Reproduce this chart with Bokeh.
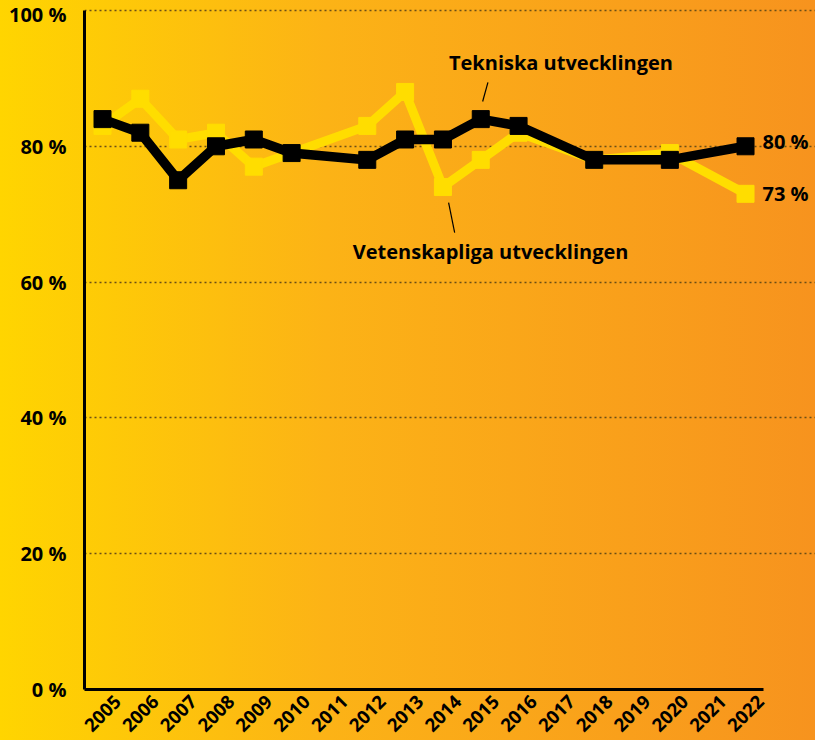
import math
from bokeh.plotting import figure
from bokeh.models import Range1d, FixedTicker, GlobalInlineStyleSheet, LinearAxis
from bokeh.core.properties import value
from bokeh.embed import file_html
from bokeh.resources import INLINE

# ---- data ----
years_tek = [2005, 2006, 2007, 2008, 2009, 2010, 2012, 2013, 2014, 2015, 2016, 2018, 2020, 2022]
tekniska = [84, 82, 75, 80, 81, 79, 78, 81, 81, 84, 83, 78, 78, 80]
years_vet = [2005, 2006, 2007, 2008, 2009, 2010, 2012, 2013, 2014, 2015, 2016, 2018, 2020, 2022]
vetenskapliga = [83, 87, 81, 82, 77, 79, 83, 88, 74, 78, 82, 78, 79, 73]
year_ticks = list(range(2005, 2023))
y_ticks = [0, 20, 40, 60, 80, 100]
y_tick_labels = {0: "0 %", 20: "20 %", 40: "40 %", 60: "60 %", 80: "80 %", 100: "100 %"}
series_names = ["Tekniska utvecklingen", "Vetenskapliga utvecklingen"]
end_labels = ["80 %", "73 %"]

BLACK = "#000000"
YELLOW = "#FFDD00"
GRID = "#6b4e16"
TICK_FONT = "Open Sans"
ANN_FONT = "Open Sans"

X0, X1 = 2004.524, 2023.85
LABEL_SHIFT = 0.4  # year labels sit slightly right of their ticks

css = GlobalInlineStyleSheet(css="""
html, body { margin: 0 !important; padding: 0; overflow: hidden;
  background: linear-gradient(to right, #FFD500 0%, #FCB316 40%, #F7931E 100%); }
""")

p = figure(width=815, height=740, output_backend="svg", toolbar_location=None,
           x_range=Range1d(X0, X1), y_range=Range1d(0, 101.47),
           x_axis_location=None,
           min_border_left=84, min_border_right=0, min_border_top=0, min_border_bottom=51,
           background_fill_color=None, border_fill_color=None, outline_line_color=None)
p.stylesheets = [css]
p.extra_x_ranges = {"lab": Range1d(X0 - LABEL_SHIFT, X1 - LABEL_SHIFT)}

xax = LinearAxis(x_range_name="lab")
p.add_layout(xax, "below")

for ax in (xax, p.yaxis[0]):
    ax.axis_line_width = 3
    ax.axis_line_color = BLACK
    ax.major_tick_line_color = None
    ax.minor_tick_line_color = None
    ax.major_label_text_font = TICK_FONT
    ax.major_label_text_font_style = "bold"
    ax.major_label_text_color = BLACK

xax.bounds = (X0 - LABEL_SHIFT, 2022.48 - LABEL_SHIFT)
xax.ticker = FixedTicker(ticks=year_ticks)
xax.major_label_orientation = math.pi / 4
xax.major_label_text_font_size = "18.5px"
xax.major_label_standoff = 3

p.yaxis.bounds = (0, 100)
p.yaxis.ticker = FixedTicker(ticks=y_ticks)
p.yaxis.major_label_overrides = y_tick_labels
p.yaxis.major_label_text_font_size = "20px"
p.yaxis.major_label_standoff = 12

p.xgrid.grid_line_color = None
p.ygrid.ticker = FixedTicker(ticks=[t for t in y_ticks if t > 0])
p.ygrid.grid_line_color = GRID
p.ygrid.grid_line_width = 1.3
p.ygrid.grid_line_dash = "2 3"

# series
p.line(years_vet, vetenskapliga, line_color=YELLOW, line_width=9, line_join="miter")
p.scatter(years_vet, vetenskapliga, marker="square", size=17, fill_color=YELLOW, line_color=YELLOW)
p.line(years_tek, tekniska, line_color=BLACK, line_width=9.5, line_join="miter")
p.scatter(years_tek, tekniska, marker="square", size=17, fill_color=BLACK, line_color=BLACK)

# end labels
p.text([years_tek[-1], years_vet[-1]], [tekniska[-1], vetenskapliga[-1]], text=end_labels,
       x_offset=17, y_offset=[-5, 0], text_baseline="middle", text_align="left",
       text_font=value(TICK_FONT), text_font_style="bold", text_font_size="20px", text_color=BLACK)

# series annotations
p.text([2017.12, 2015.26], [92.3, 64.5], text=series_names,
       text_baseline="middle", text_align="center",
       text_font=value(ANN_FONT), text_font_style="bold", text_font_size="20px", text_color=BLACK)
p.segment(x0=[2015.19, 2014.15], y0=[89.4, 71.7], x1=[2015.05, 2014.31], y1=[86.6, 67.3],
          line_color=BLACK, line_width=1.2)

open("out.html", "w").write(file_html(p, INLINE))
